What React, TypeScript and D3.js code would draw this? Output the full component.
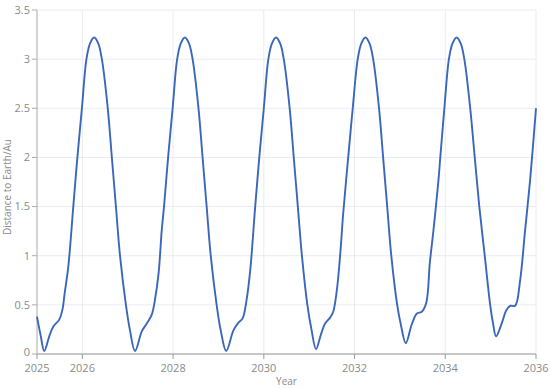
import * as d3 from "d3";

// Distance to Earth (AU), by year
const years = [
  2025.0, 2025.08, 2025.16, 2025.27, 2025.36, 2025.49, 2025.56, 2025.61, 2025.69,
  2025.8, 2025.89, 2025.99, 2026.09, 2026.17, 2026.26, 2026.35, 2026.43, 2026.56,
  2026.65, 2026.74, 2026.83, 2026.96, 2027.05,
  2027.16, 2027.31, 2027.42, 2027.53, 2027.6, 2027.68, 2027.75,
  2027.8, 2027.89, 2027.99, 2028.09, 2028.17, 2028.26, 2028.35, 2028.43, 2028.56,
  2028.65, 2028.74, 2028.83, 2028.96, 2029.05,
  2029.17, 2029.33, 2029.44, 2029.53, 2029.62, 2029.7,
  2029.81, 2029.9, 2030.0, 2030.1, 2030.18, 2030.27, 2030.36, 2030.44, 2030.57,
  2030.66, 2030.75, 2030.84, 2030.96, 2031.05,
  2031.15, 2031.26, 2031.35, 2031.46, 2031.53, 2031.61, 2031.68, 2031.75,
  2031.86, 2031.96, 2032.07, 2032.15, 2032.24, 2032.33, 2032.41, 2032.54,
  2032.63, 2032.72, 2032.81, 2032.94, 2033.02,
  2033.13, 2033.26, 2033.37, 2033.48, 2033.58, 2033.66, 2033.74, 2033.85,
  2033.89, 2033.98, 2034.08, 2034.16, 2034.25, 2034.34, 2034.42, 2034.55,
  2034.65, 2034.75, 2034.87, 2034.99, 2035.05,
  2035.12, 2035.25, 2035.34, 2035.43, 2035.54, 2035.65, 2035.76, 2035.87, 2036.0,
];
const distances = [
  0.38, 0.19, 0.03, 0.18, 0.28, 0.35, 0.45, 0.62, 0.89,
  1.5, 2.0, 2.5, 3.0, 3.16, 3.22, 3.16, 3.0, 2.5,
  2.0, 1.5, 1.0, 0.5, 0.24,
  0.03, 0.23, 0.31, 0.4, 0.55, 0.82, 1.26,
  1.5, 2.0, 2.5, 3.0, 3.16, 3.22, 3.16, 3.0, 2.5,
  2.0, 1.5, 1.0, 0.5, 0.24,
  0.03, 0.24, 0.32, 0.36, 0.55, 0.85,
  1.5, 2.0, 2.5, 3.0, 3.16, 3.22, 3.16, 3.0, 2.5,
  2.0, 1.5, 1.0, 0.5, 0.25,
  0.05, 0.2, 0.31, 0.37, 0.43, 0.65, 0.99, 1.43,
  2.0, 2.5, 3.0, 3.16, 3.22, 3.16, 3.0, 2.5,
  2.0, 1.5, 1.0, 0.5, 0.3,
  0.11, 0.3, 0.41, 0.43, 0.52, 0.93, 1.26, 1.77,
  2.0, 2.5, 3.0, 3.16, 3.22, 3.16, 3.0, 2.5,
  2.0, 1.5, 1.0, 0.5, 0.32,
  0.18, 0.32, 0.44, 0.49, 0.49, 0.75, 1.26, 1.77, 2.5,
];

const xTicks = [2025, 2026, 2028, 2030, 2032, 2034, 2036];
const yTicks = [0, 0.5, 1, 1.5, 2, 2.5, 3, 3.5];

const xLabel = "Year";
const yLabel = "Distance to Earth/Au";

export default function App() {
  const width = 550;
  const height = 389;
  const margin = { top: 10, right: 14, bottom: 35, left: 37 };
  const innerW = width - margin.left - margin.right;
  const innerH = height - margin.top - margin.bottom;

  const x = d3.scaleLinear().domain([2025, 2036]).range([0, innerW]);
  const y = d3.scaleLinear().domain([0, 3.5]).range([innerH, 0]);

  const data = years.map((yr, i) => ({ yr, d: distances[i] }));
  const line = d3
    .line<{ yr: number; d: number }>()
    .x((p) => x(p.yr))
    .y((p) => y(p.d))
    .curve(d3.curveCatmullRom.alpha(0.5));

  const font = "'Open Sans', 'Noto Sans', sans-serif";

  return (
    <svg
      width={width}
      height={height}
      style={{ position: "absolute", left: 0, top: 0, background: "#fff" }}
    >
      <g transform={`translate(${margin.left},${margin.top})`}>
        {/* grid */}
        {yTicks.map((t) => (
          <line key={"gy" + t} x1={0} x2={innerW} y1={y(t)} y2={y(t)} stroke="#e8ecf1" strokeWidth={1} />
        ))}
        {xTicks.slice(1).map((t) => (
          <line key={"gx" + t} x1={x(t)} x2={x(t)} y1={0} y2={innerH} stroke="#e8ecf1" strokeWidth={1} />
        ))}

        {/* axes */}
        <line x1={0} x2={0} y1={0} y2={innerH} stroke="#aaa" strokeWidth={1} />
        <line x1={0} x2={innerW} y1={innerH} y2={innerH} stroke="#999" strokeWidth={1} />

        {yTicks.map((t) => (
          <g key={"ty" + t} transform={`translate(0,${y(t)})`}>
            <line x1={-5} x2={0} stroke="#aaa" />
            <text x={-7} dy={t === 0 ? "0.2em" : "0.35em"} textAnchor="end" fontSize={11} fill="#8a8a8a" fontFamily={font}>
              {t}
            </text>
          </g>
        ))}
        {xTicks.map((t) => (
          <g key={"tx" + t} transform={`translate(${x(t)},${innerH})`}>
            <line y1={0} y2={5} stroke="#999" />
            <text y={18} textAnchor="middle" fontSize={11} fill="#8a8a8a" fontFamily={font}>
              {t}
            </text>
          </g>
        ))}

        <path d={line(data) || ""} fill="none" stroke="#3a67bd" strokeWidth={1.9} strokeLinejoin="round" />

        <text
          x={innerW / 2}
          y={innerH + 31}
          textAnchor="middle"
          fontSize={10}
          fill="#8a8a8a"
          fontFamily={font}
        >
          {xLabel}
        </text>
        <text
          transform={`translate(${-26},${innerH / 2 + 5}) rotate(-90)`}
          textAnchor="middle"
          fontSize={10}
          fill="#8a8a8a"
          fontFamily={font}
        >
          {yLabel}
        </text>
      </g>
    </svg>
  );
}
